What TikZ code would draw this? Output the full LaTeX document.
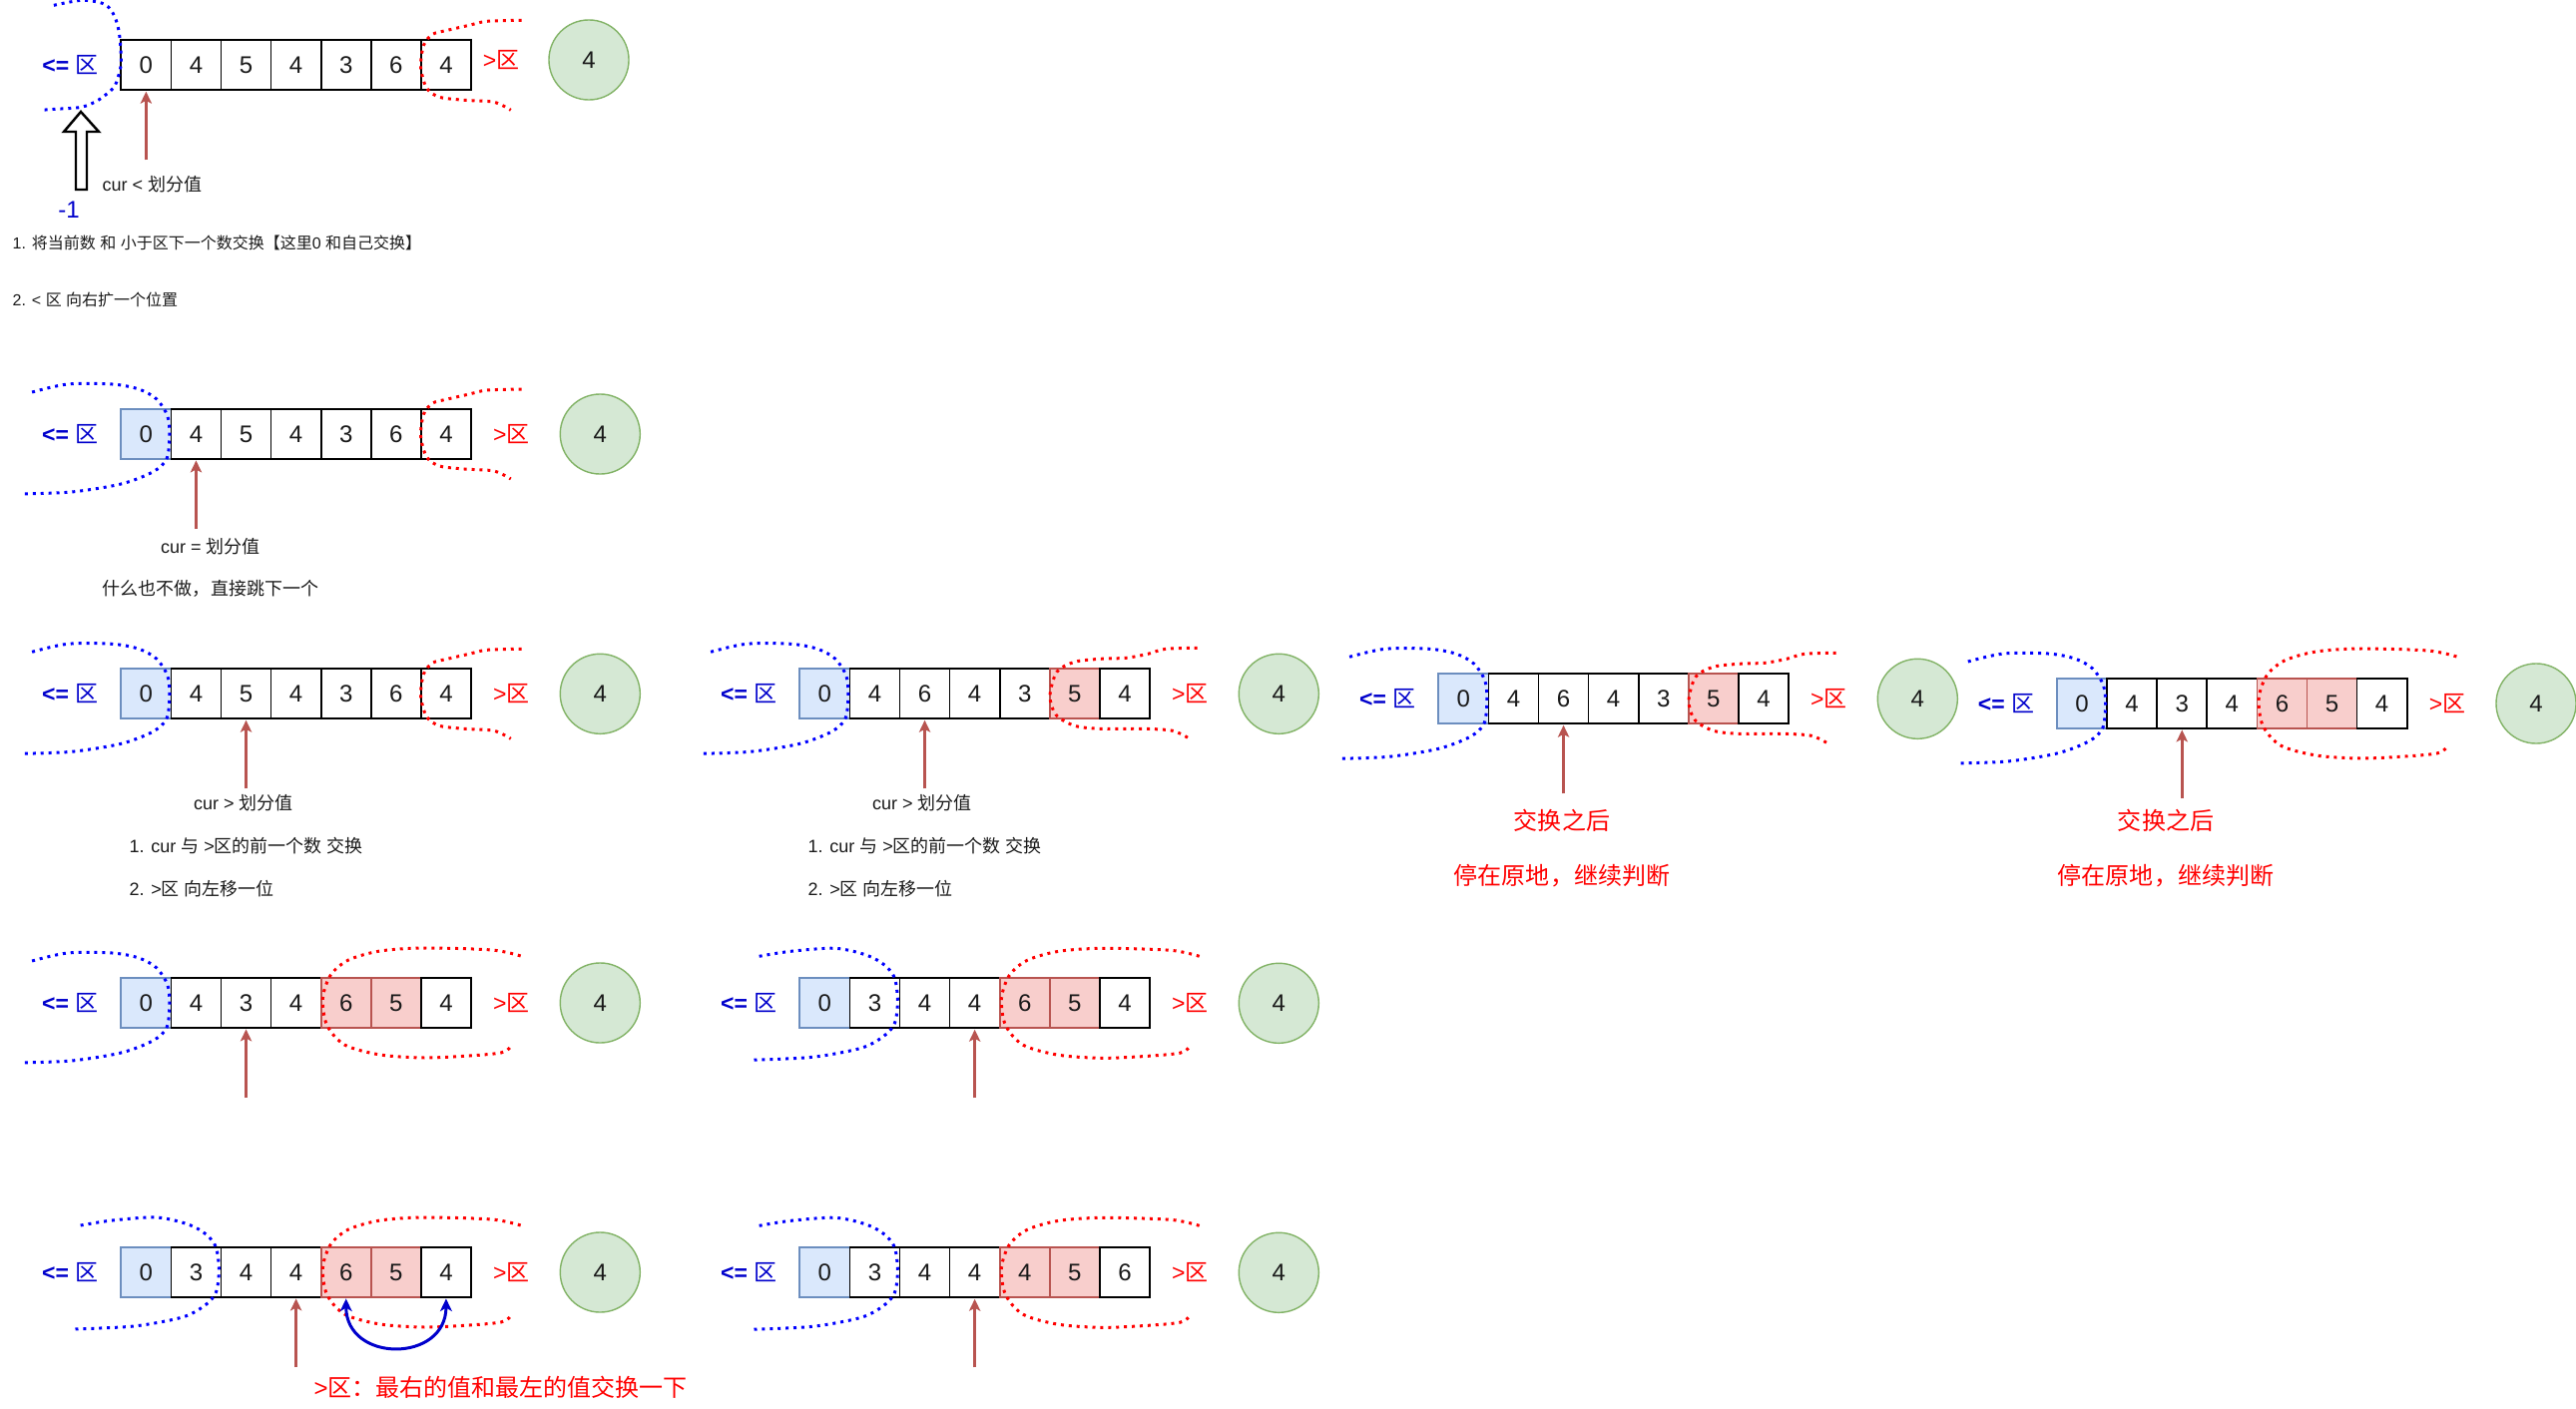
\documentclass[tikz,border=0pt]{standalone}
\usepackage{fontspec}
\setmainfont{Liberation Sans}
\newfontfamily\cjk{Noto Sans CJK SC}
\usetikzlibrary{arrows.meta}
\definecolor{bfill}{HTML}{DAE8FC}
\definecolor{bdraw}{HTML}{6C8EBF}
\definecolor{rfill}{HTML}{F8CECC}
\definecolor{rdraw}{HTML}{B85450}
\definecolor{gfill}{HTML}{D5E8D4}
\definecolor{gdraw}{HTML}{82B366}
\definecolor{dblue}{HTML}{0000CC}
\definecolor{dotblue}{HTML}{0000FF}
\definecolor{dotred}{HTML}{FF0000}
\definecolor{txt}{HTML}{1A1A1A}
\newcommand\C[1]{{\cjk #1}}
\newcommand\fsz[1]{\fontsize{#1}{#1}\selectfont}
\newcommand\cw{50.1}
% cells: #1 prefix, #2 x0, #3 y0, #4 list value/style
\newcommand\cellrow[4]{%
  \foreach \vv/\ss [count=\ii from 0] in {#4}{%
    \node[\ss] (#1c\ii) at ({#2+(\ii+0.5)*\cw},{#3+25}) {\vv};}}
% standard zone labels and pivot
\newcommand\zones[3]{%
  \node[lzone] (#1L) at ({#2-51},{#3+25}) {\textbf{<=} \C{区}};
  \node[rzone] (#1R) at ({#2+391},{#3+25}) {>\C{区}};
  \node[pivot] (#1P) at ({#2+480},{#3+25}) {4};}
% pointer arrow: #1 prefix, #2 x0, #3 y0, #4 index
\newcommand\pointer[4]{%
  \coordinate (#1s) at ({#2+(#4+0.5)*\cw},{#3+120});
  \draw[ptr] (#1s) -- (#1c#4.south);}
\newcommand\curve[4]{\draw[#1, shift={(#2,#3)}, xscale=0.991] plot[smooth] coordinates {#4};}
\newcommand\bluestd[2]{\curve{bdot}{#1}{#2}{(-90,-17) (-54,-25) (-9,-25) (18,-20) (36,-10) (47,7) (49,27) (46,50) (32,63) (0,75) (-50,83) (-102,85)}}
\newcommand\blueshift[2]{\curve{bdot}{#1}{#2}{(-41,-22) (-9,-27) (36,-30) (68,-23) (86,-13) (96,0) (99,23) (96,45) (85,58) (62,70) (13,79) (-50,82)}}
\newcommand\redA[2]{\curve{rdot}{#1}{#2}{(405,-20) (370,-19) (352,-15) (330,-10) (315,-6) (306,5) (303,27) (309,48) (322,57) (347,60) (377,62) (394,70)}}
\newcommand\redB[2]{\curve{rdot}{#1}{#2}{(402,-21) (370,-20) (352,-15) (330,-11) (304,-10) (278,-7) (260,3) (253,27) (259,46) (278,57) (304,60) (347,60) (377,62) (394,70)}}
\newcommand\redC[2]{\curve{rdot}{#1}{#2}{(404,-22) (375,-28) (307,-30) (262,-27) (230,-18) (212,-3) (204,20) (208,47) (226,67) (262,77) (307,80) (352,78) (384,75) (393,70)}}
\begin{document}
\begin{tikzpicture}[x=0.01cm, y=-0.01cm,
  cell/.style={draw=black, line width=0.5pt, fill=white, minimum width=0.501cm, minimum height=0.5cm, inner sep=0pt, outer sep=0pt, font=\fsz{6.83pt}, text=txt},
  wc/.style={cell},
  bc/.style={cell, fill=bfill, draw=bdraw},
  rc/.style={cell, fill=rfill, draw=rdraw},
  pivot/.style={circle, draw=gdraw, fill=gfill, line width=0.4pt, minimum size=0.8cm, inner sep=0pt, font=\fsz{6.83pt}, text=txt},
  lzone/.style={text=dblue, font=\fsz{6.54pt}, inner sep=0pt},
  rzone/.style={text=red, font=\fsz{6.54pt}, inner sep=0pt},
  lab/.style={text=txt, font=\fsz{5.12pt}, inner sep=0pt},
  labs/.style={text=txt, font=\fsz{4.55pt}, inner sep=0pt},
  note/.style={text=red, font=\fsz{6.83pt}, inner sep=0pt},
  ptr/.style={draw=rdraw, line width=0.7pt, -{Stealth[length=3.4pt,width=3.2pt,inset=0.8pt]}, shorten >=0.4pt},
  bdot/.style={draw=dotblue, line width=0.85pt, dash pattern=on 0.85pt off 1.4pt},
  rdot/.style={draw=dotred, line width=0.85pt, dash pattern=on 0.85pt off 1.4pt},
  swaparrow/.style={draw=dblue, line width=0.85pt, {Stealth[length=3.6pt,width=3.4pt,inset=1pt]}-{Stealth[length=3.6pt,width=3.4pt,inset=1pt]}, shorten <=0.4pt, shorten >=0.4pt}
]
\fill[white] (0,0) rectangle (2581,1412);
\useasboundingbox (0,0) rectangle (2581,1412);

% ---------- Row 1 ----------
\cellrow{pa}{121.3}{40.3}{0/wc,4/wc,5/wc,4/wc,3/wc,6/wc,4/wc}
\node[lzone] (paL) at (70.5,65) {\textbf{<=} \C{区}};
\node[rzone] (paR) at (502,60) {>\C{区}};
\node[pivot] (paP) at (590,60) {4};
\pointer{pa}{121.3}{40.3}{0}
\curve{bdot}{121.3}{40.3}{(-68,-35) (-40,-40) (-19,-37) (-10,-30) (-4,-17) (-1,0) (0,23) (-3,37) (-8,48) (-23,60) (-40,67) (-66,69) (-81,70)}
\redA{121.3}{40.3}
\draw[line width=0.7pt, fill=white] (81,112) -- (99,132) -- (87,132) -- (87,190) -- (76,190) -- (76,132) -- (64,132) -- cycle;
\node[text=dblue, font=\fsz{6.83pt}, inner sep=0pt] (minus) at (69,210) {-1};
\node[lab, anchor=west] (t1a) at (102,185) {cur < \C{划分值}};
\node[labs, anchor=west] (t1b) at (12,243) {1. \C{将当前数} \C{和} \C{小于区下一个数交换【这里}0 \C{和自己交换】}};
\node[labs, anchor=west] (t1c) at (12,300) {2. < \C{区} \C{向右扩一个位置}};

% ---------- Row 2 ----------
\cellrow{pb}{121.3}{410}{0/bc,4/wc,5/wc,4/wc,3/wc,6/wc,4/wc}
\zones{pb}{121.3}{410}
\pointer{pb}{121.3}{410}{1}
\bluestd{121.3}{410}
\redA{121.3}{410}
\node[lab] (t2a) at (211,548) {cur = \C{划分值}};
\node[lab] (t2b) at (211,590) {\C{什么也不做，直接跳下一个}};

% ---------- Row 3 A ----------
\cellrow{pc}{121.3}{670.3}{0/bc,4/wc,5/wc,4/wc,3/wc,6/wc,4/wc}
\zones{pc}{121.3}{670.3}
\pointer{pc}{121.3}{670.3}{2}
\bluestd{121.3}{670.3}
\redA{121.3}{670.3}
\node[lab] (t3a) at (244,805) {cur > \C{划分值}};
\node[lab, anchor=west] (t3b) at (129,848) {1. cur \C{与} >\C{区的前一个数} \C{交换}};
\node[lab, anchor=west] (t3c) at (129,891) {2. >\C{区} \C{向左移一位}};

% ---------- Row 3 B ----------
\cellrow{pd}{801.3}{670.3}{0/bc,4/wc,6/wc,4/wc,3/wc,5/rc,4/wc}
\zones{pd}{801.3}{670.3}
\pointer{pd}{801.3}{670.3}{2}
\bluestd{801.3}{670.3}
\redB{801.3}{670.3}
\node[lab] (t4a) at (924,805) {cur > \C{划分值}};
\node[lab, anchor=west] (t4b) at (809,848) {1. cur \C{与} >\C{区的前一个数} \C{交换}};
\node[lab, anchor=west] (t4c) at (809,891) {2. >\C{区} \C{向左移一位}};

% ---------- Row 3 C ----------
\cellrow{pe}{1441.3}{675.3}{0/bc,4/wc,6/wc,4/wc,3/wc,5/rc,4/wc}
\zones{pe}{1441.3}{675.3}
\pointer{pe}{1441.3}{675.3}{2}
\bluestd{1441.3}{675.3}
\redB{1441.3}{675.3}
\node[note] (t5a) at (1565,822) {\C{交换之后}};
\node[note] (t5b) at (1565,878) {\C{停在原地，继续判断}};

% ---------- Row 3 D ----------
\cellrow{pf}{2061}{680}{0/bc,4/wc,3/wc,4/wc,6/rc,5/rc,4/wc}
\zones{pf}{2061}{680}
\pointer{pf}{2061}{680}{2}
\bluestd{2061}{680}
\redC{2061}{680}
\node[note] (t6a) at (2170,822) {\C{交换之后}};
\node[note] (t6b) at (2170,878) {\C{停在原地，继续判断}};

% ---------- Row 4 A ----------
\cellrow{pg}{121.3}{980}{0/bc,4/wc,3/wc,4/wc,6/rc,5/rc,4/wc}
\zones{pg}{121.3}{980}
\pointer{pg}{121.3}{980}{2}
\bluestd{121.3}{980}
\redC{121.3}{980}

% ---------- Row 4 B ----------
\cellrow{ph}{801.3}{980.3}{0/bc,3/wc,4/wc,4/wc,6/rc,5/rc,4/wc}
\zones{ph}{801.3}{980.3}
\pointer{ph}{801.3}{980.3}{3}
\blueshift{801.3}{980.3}
\redC{801.3}{980.3}

% ---------- Row 5 A ----------
\cellrow{pi}{121.3}{1250}{0/bc,3/wc,4/wc,4/wc,6/rc,5/rc,4/wc}
\zones{pi}{121.3}{1250}
\pointer{pi}{121.3}{1250}{3}
\blueshift{121.3}{1250}
\redC{121.3}{1250}
\draw[swaparrow] (pic4.south) .. controls +(0,66) and +(0,66) .. (pic6.south);
\node[note, anchor=west] (t7) at (314,1390) {>\C{区：最右的值和最左的值交换一下}};

% ---------- Row 5 B ----------
\cellrow{pj}{801.3}{1250.3}{0/bc,3/wc,4/wc,4/wc,4/rc,5/rc,6/wc}
\zones{pj}{801.3}{1250.3}
\pointer{pj}{801.3}{1250.3}{3}
\blueshift{801.3}{1250.3}
\redC{801.3}{1250.3}
\end{tikzpicture}
\end{document}
